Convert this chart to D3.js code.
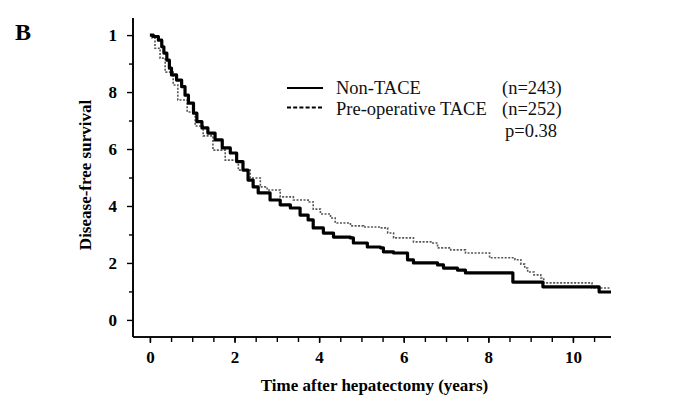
<!DOCTYPE html>
<html><head><meta charset="utf-8">
<script src="https://cdn.jsdelivr.net/npm/d3@7"></script>
<style>body{margin:0;background:#fff}svg{display:block}</style>
</head><body>
<svg id="c" width="688" height="404"></svg>
<script>
// Non-TACE (solid) : [years, survival]
const nonTACE = [
[0,1.0],[0.08,0.995],[0.20,0.982],[0.28,0.959],[0.33,0.937],[0.40,0.912],[0.46,0.884],[0.51,0.860],
[0.63,0.842],[0.75,0.819],[0.83,0.789],[0.91,0.761],[1.03,0.726],[1.11,0.696],[1.23,0.674],[1.37,0.656],
[1.54,0.632],[1.71,0.604],[1.90,0.586],[2.05,0.556],[2.20,0.526],[2.32,0.491],[2.44,0.467],[2.56,0.446],
[2.84,0.421],[3.08,0.404],[3.32,0.393],[3.55,0.368],[3.74,0.351],[3.86,0.323],[4.10,0.305],[4.34,0.291],
[4.74,0.288],[4.81,0.270],[5.14,0.256],[5.45,0.253],[5.52,0.239],[5.76,0.235],[6.09,0.211],[6.23,0.200],
[6.80,0.193],[6.94,0.182],[7.23,0.182],[7.27,0.175],[7.46,0.165],[8.48,0.165],[8.58,0.133],[9.24,0.133],
[9.29,0.116],[10.59,0.116],[10.62,0.098],[10.90,0.098]
];
// Pre-operative TACE (dotted)
const preTACE = [
[0,1.0],[0.05,0.99],[0.12,0.954],[0.24,0.919],[0.36,0.870],[0.55,0.825],[0.66,0.772],[0.88,0.730],
[1.07,0.681],[1.26,0.646],[1.49,0.596],[1.78,0.561],[2.09,0.526],[2.37,0.498],[2.61,0.467],[2.77,0.456],
[3.08,0.432],[3.39,0.421],[3.74,0.414],[3.86,0.389],[4.03,0.372],[4.27,0.358],[4.38,0.340],[4.74,0.330],
[5.05,0.326],[5.45,0.323],[5.62,0.305],[5.76,0.288],[6.23,0.274],[6.64,0.270],[6.80,0.253],[7.11,0.246],
[7.46,0.235],[7.96,0.235],[8.03,0.218],[8.63,0.211],[8.77,0.196],[8.86,0.182],[8.93,0.168],[9.08,0.158],
[9.24,0.147],[9.31,0.130],[10.36,0.130],[10.45,0.112],[10.90,0.112]
];
const xMajor = [0,2,4,6,8,10];
const xMinor = [0,0.5,1,1.5,2,2.5,3,3.5,4,4.5,5,5.5,6,6.5,7,7.5,8,8.5,9,9.5,10,10.5];
const yMajor = [0,0.2,0.4,0.6,0.8,1.0];
const yMajorLabels = ["0","2","4","6","8","1"];
const yMinor = [0.1,0.3,0.5,0.7,0.9];
const legendNames = ["Non-TACE","Pre-operative TACE"];
const legendN = ["(n=243)","(n=252)"];
const pText = "p=0.38";

const svg = d3.select("#c");
const serif = "'Liberation Serif','Times New Roman',serif";
const x = d3.scaleLinear().domain([-0.4,10.9]).range([133,611]);
const y = d3.scaleLinear().domain([-0.06,1.06]).range([337,18]);

// axes
const xAxis = d3.axisBottom(x).tickValues(xMajor).tickSize(6).tickPadding(8).tickFormat(d3.format("d"));
const gx = svg.append("g").attr("transform","translate(0,337)").call(xAxis);
gx.append("g").call(d3.axisBottom(x).tickValues(xMinor).tickSize(5).tickFormat(""));
const yAxis = d3.axisLeft(y).tickValues(yMajor).tickSize(6).tickPadding(10).tickFormat((d,i)=>yMajorLabels[i]);
const gy = svg.append("g").attr("transform","translate(133,0)").call(yAxis);
gy.append("g").call(d3.axisLeft(y).tickValues(yMinor).tickSize(4).tickFormat(""));
svg.selectAll(".domain").attr("stroke","#000").attr("stroke-width",1.6);
svg.selectAll(".tick line").attr("stroke","#000").attr("stroke-width",1.4);
svg.selectAll(".tick text").attr("font-family",serif).attr("font-size",17).attr("font-weight","bold").attr("fill","#000");
gx.selectAll(".domain").attr("d",`M${x(-0.4)},0H${x(10.9)}`);
gy.selectAll(".domain").attr("d",`M0,${y(1.06)}V${y(-0.06)}`);

const line = d3.line().x(d=>x(d[0])).y(d=>y(d[1])).curve(d3.curveStepAfter);
svg.append("path").datum(preTACE).attr("d",line).attr("fill","none")
  .attr("stroke","#555").attr("stroke-width",1.6).attr("stroke-dasharray","2,1.5");
svg.append("path").datum(nonTACE).attr("d",line).attr("fill","none")
  .attr("stroke","#000").attr("stroke-width",3.2).attr("stroke-linejoin","round");

// labels
svg.append("text").attr("x",15).attr("y",40).text("B")
  .attr("font-family",serif).attr("font-size",24).attr("font-weight","bold");
svg.append("text").attr("transform","translate(91,175) rotate(-90)").attr("text-anchor","middle")
  .text("Disease-free survival").attr("font-family",serif).attr("font-size",17).attr("font-weight","bold");
svg.append("text").attr("x",374.5).attr("y",391).attr("text-anchor","middle")
  .text("Time after hepatectomy (years)").attr("font-family",serif).attr("font-size",17).attr("font-weight","bold");

// legend
const lg = svg.append("g");
lg.append("line").attr("x1",287).attr("x2",323).attr("y1",88).attr("y2",88).attr("stroke","#000").attr("stroke-width",2);
lg.append("line").attr("x1",287).attr("x2",323).attr("y1",107.5).attr("y2",107.5).attr("stroke","#000").attr("stroke-width",2).attr("stroke-dasharray","4,2.2");
legendNames.forEach((n,i)=>{
  lg.append("text").attr("x",336).attr("y",93.5+i*21.5).text(n).attr("font-family",serif).attr("font-size",18.5).attr("fill","#111");
  lg.append("text").attr("x",502).attr("y",93.5+i*21.5).text(legendN[i]).attr("font-family",serif).attr("font-size",18.5).attr("fill","#111");
});
lg.append("text").attr("x",505).attr("y",136.5).text(pText).attr("font-family",serif).attr("font-size",18.5).attr("fill","#111");
</script>
</body></html>
